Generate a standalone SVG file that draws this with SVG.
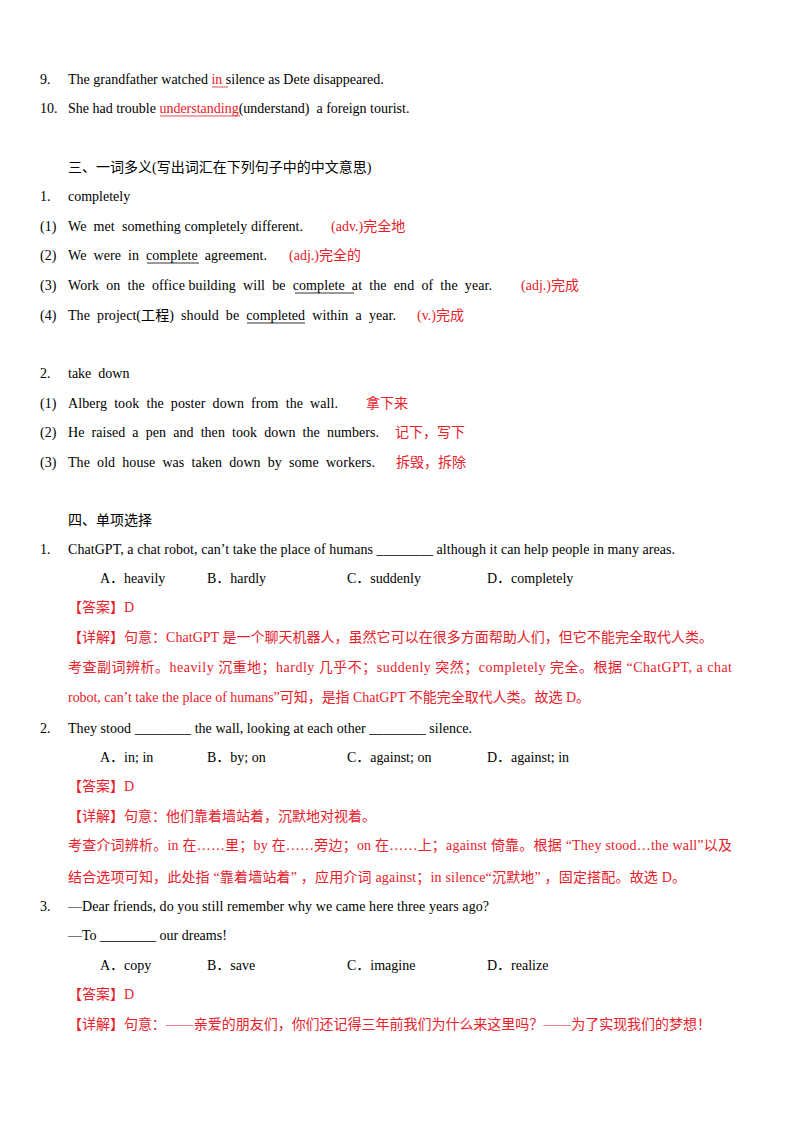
<svg xmlns="http://www.w3.org/2000/svg" width="800" height="1132" viewBox="0 0 800 1132" xml:space="preserve">
<style>
text{font-family:"Liberation Serif","Noto Sans CJK SC",serif;font-size:14px;fill:#000;white-space:pre}
.r{fill:#e8202a}
.u{stroke:#000;stroke-width:0.8}
.ur{stroke:#e8202a;stroke-width:0.8}
</style>
<rect width="800" height="1132" fill="#fff"/>
<text x="40" y="84">9.</text><text x="68" y="84">The grandfather watched <tspan class="r">in </tspan>silence as Dete disappeared.</text>
<line class="ur" x1="212" y1="87" x2="228" y2="87"/>
<text x="40" y="113">10.</text><text x="68" y="113">She had trouble <tspan class="r">understanding</tspan>(understand)  a foreign tourist.</text>
<line class="ur" x1="160" y1="116" x2="240" y2="116"/>
<text x="68" y="172">三、一词多义(写出词汇在下列句子中的中文意思)</text>
<text x="40" y="201">1.</text><text x="68" y="201">completely</text>
<text x="40" y="231">(1)</text><text x="68" y="231" textLength="235">We  met  something completely different.</text><text class="r" x="331" y="231">(adv.)完全地</text>
<text x="40" y="260">(2)</text><text x="68" y="260" textLength="199">We  were  in  complete  agreement.</text><text class="r" x="289" y="260">(adj.)完全的</text>
<line class="u" x1="147" y1="263" x2="199" y2="263"/>
<text x="40" y="290">(3)</text><text x="68" y="290" textLength="424">Work  on  the  office building  will  be  complete  at  the  end  of  the  year.</text><text class="r" x="521" y="290">(adj.)完成</text>
<line class="u" x1="295" y1="293" x2="354" y2="293"/>
<text x="40" y="320">(4)</text><text x="68" y="320" textLength="328">The  project(工程)  should  be  completed  within  a  year.</text><text class="r" x="417" y="320">(v.)完成</text>
<line class="u" x1="247" y1="323" x2="305" y2="323"/>
<text x="40" y="378">2.</text><text x="68" y="378">take  down</text>
<text x="40" y="408">(1)</text><text x="68" y="408" textLength="270">Alberg  took  the  poster  down  from  the  wall.</text><text class="r" x="366" y="408">拿下来</text>
<text x="40" y="437">(2)</text><text x="68" y="437" textLength="311">He  raised  a  pen  and  then  took  down  the  numbers.</text><text class="r" x="395" y="437">记下，写下</text>
<text x="40" y="467">(3)</text><text x="68" y="467" textLength="307">The  old  house  was  taken  down  by  some  workers.</text><text class="r" x="396" y="467">拆毁，拆除</text>
<text x="68" y="525">四、单项选择</text>
<text x="40" y="554">1.</text><text x="68" y="554" textLength="607">ChatGPT, a chat robot, can’t take the place of humans ________ although it can help people in many areas.</text>
<text x="100" y="583">A．heavily</text><text x="207" y="583">B．hardly</text><text x="347" y="583">C．suddenly</text><text x="487" y="583">D．completely</text>
<text class="r" x="68" y="612">【答案】D</text>
<text class="r" x="68" y="642" textLength="645">【详解】句意：ChatGPT 是一个聊天机器人，虽然它可以在很多方面帮助人们，但它不能完全取代人类。</text>
<text class="r" x="68" y="672" textLength="664">考查副词辨析。heavily 沉重地；hardly 几乎不；suddenly 突然；completely 完全。根据 “ChatGPT, a chat</text>
<text class="r" x="68" y="702" textLength="522">robot, can’t take the place of humans”可知，是指 ChatGPT 不能完全取代人类。故选 D。</text>
<text x="40" y="733">2.</text><text x="68" y="733" textLength="404">They stood ________ the wall, looking at each other ________ silence.</text>
<text x="100" y="762">A．in; in</text><text x="207" y="762">B．by; on</text><text x="347" y="762">C．against; on</text><text x="487" y="762">D．against; in</text>
<text class="r" x="68" y="791">【答案】D</text>
<text class="r" x="68" y="821">【详解】句意：他们靠着墙站着，沉默地对视着。</text>
<text class="r" x="68" y="850" textLength="664">考查介词辨析。in 在……里；by 在……旁边；on 在……上；against 倚靠。根据 “They stood…the wall”以及</text>
<text class="r" x="68" y="882" textLength="618">结合选项可知，此处指 “靠着墙站着” ，应用介词 against；in silence“沉默地” ，固定搭配。故选 D。</text>
<text x="40" y="911">3.</text><text x="68" y="911" textLength="421">—Dear friends, do you still remember why we came here three years ago?</text>
<text x="68" y="940">—To ________ our dreams!</text>
<text x="100" y="970">A．copy</text><text x="207" y="970">B．save</text><text x="347" y="970">C．imagine</text><text x="487" y="970">D．realize</text>
<text class="r" x="68" y="999">【答案】D</text>
<text class="r" x="68" y="1029" textLength="643">【详解】句意：——亲爱的朋友们，你们还记得三年前我们为什么来这里吗？——为了实现我们的梦想！</text>
</svg>
